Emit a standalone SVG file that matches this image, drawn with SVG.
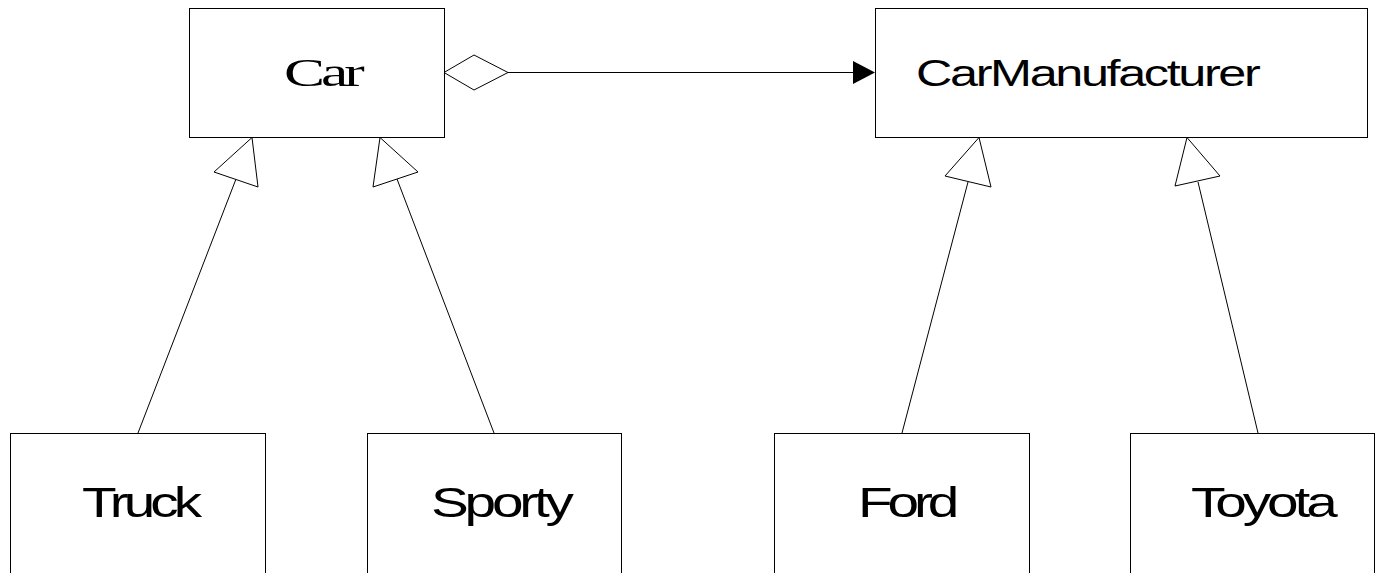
<svg xmlns="http://www.w3.org/2000/svg" width="1375" height="573" viewBox="0 0 1375 573">
<style>
.box{fill:#fff;stroke:#000;stroke-width:1}
.lbl{font-family:"Liberation Sans",Arial,sans-serif;font-size:42px;fill:#000}
.ser{font-family:"Liberation Serif","Times New Roman",serif;font-size:41px;fill:#000}
.ln{fill:none;stroke:#000;stroke-width:1}
.tri{fill:#fff;stroke:#000;stroke-width:1}
</style>
<rect width="1375" height="573" fill="#fff"/>
<g id="connectors">
<line class="ln" x1="236" y1="179" x2="138" y2="433"/>
<polygon class="tri" points="252,137.5 214,172 258,187"/>
<line class="ln" x1="397" y1="179" x2="494" y2="433"/>
<polygon class="tri" points="380,137.5 373,187 418,172"/>
<line class="ln" x1="968" y1="182" x2="902" y2="433"/>
<polygon class="tri" points="979,137.5 945,176 991,187"/>
<line class="ln" x1="1198" y1="182" x2="1258" y2="433"/>
<polygon class="tri" points="1187,137.5 1175,186 1220,176"/>
<polygon class="tri" points="444,72.5 474,55 508,72.5 474,90"/>
<line class="ln" x1="508" y1="72.5" x2="855" y2="72.5"/>
<polygon points="853,61 875,72.5 853,84" fill="#000"/>
</g>
<g id="car">
<rect class="box" x="189.5" y="8.5" width="255" height="129"/>
<text class="ser" transform="translate(284,86) scale(1.5,1)" letter-spacing="-2.7">Car</text>
</g>
<g id="carmanufacturer">
<rect class="box" x="875.5" y="8.5" width="492" height="129"/>
<text class="lbl" style="font-size:36px" transform="translate(916,86) scale(1.4,1)" letter-spacing="-1.7">CarManufacturer</text>
</g>
<g id="truck">
<rect class="box" x="10.5" y="433.5" width="255" height="200"/>
<text class="lbl" transform="translate(82,517) scale(1.35,1)" letter-spacing="-3.6">Truck</text>
</g>
<g id="sporty">
<rect class="box" x="367.5" y="433.5" width="254" height="200"/>
<text class="lbl" transform="translate(431,517) scale(1.35,1)" letter-spacing="-3.1">Sporty</text>
</g>
<g id="ford">
<rect class="box" x="774.5" y="433.5" width="255" height="200"/>
<text class="lbl" transform="translate(858,517) scale(1.35,1)" letter-spacing="-3.8">Ford</text>
</g>
<g id="toyota">
<rect class="box" x="1130.5" y="433.5" width="244" height="200"/>
<text class="lbl" transform="translate(1191,517) scale(1.35,1)" letter-spacing="-3">Toyota</text>
</g>
</svg>
